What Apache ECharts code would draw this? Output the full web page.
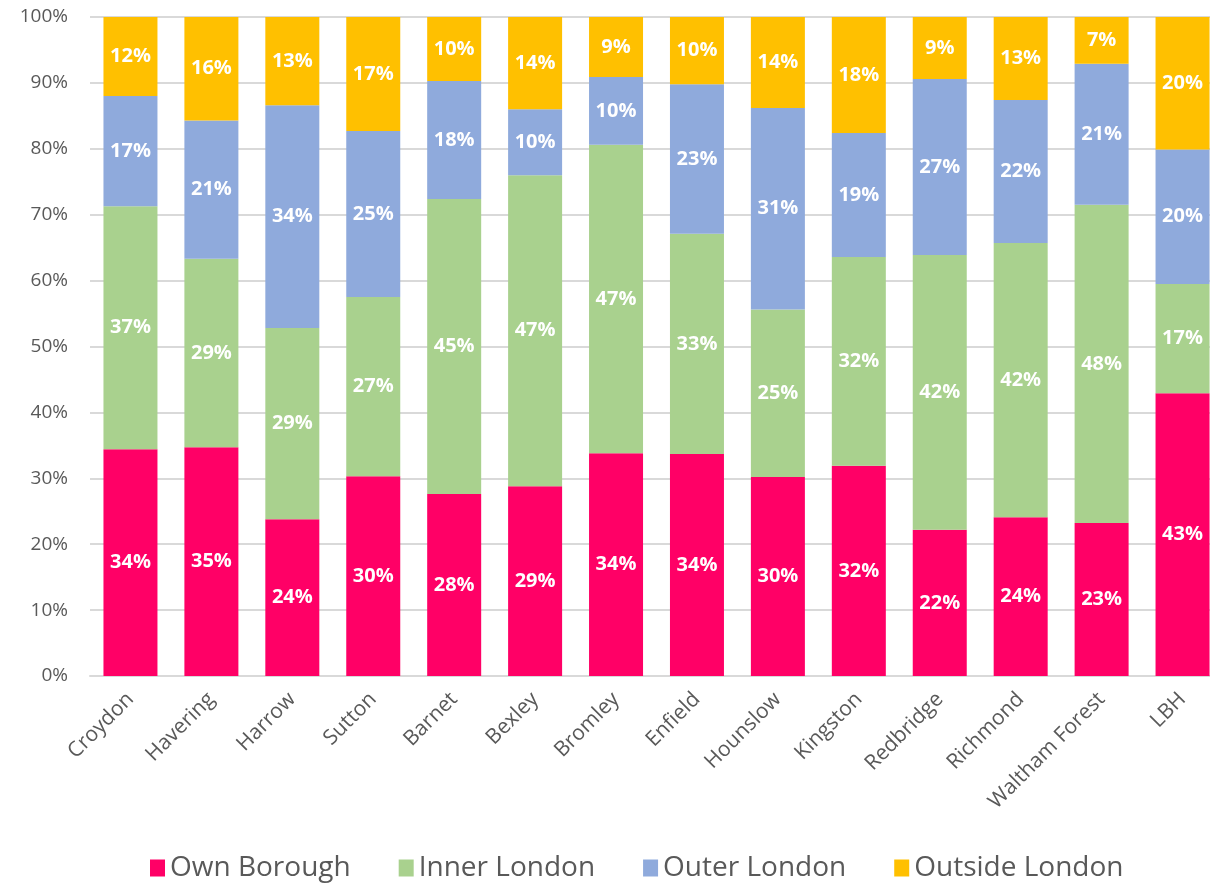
<!DOCTYPE html>
<html>
<head>
<meta charset="utf-8">
<script src="https://cdn.jsdelivr.net/npm/echarts@6/dist/echarts.min.js"></script>
<style>
  html, body { margin: 0; padding: 0; background: #fff; }
  #chart { width: 1210px; height: 883px; }
</style>
</head>
<body>
<div id="chart"></div>
<script>
// Boroughs along the x axis
const boroughs = ['Croydon', 'Havering', 'Harrow', 'Sutton', 'Barnet', 'Bexley', 'Bromley',
  'Enfield', 'Hounslow', 'Kingston', 'Redbridge', 'Richmond', 'Waltham Forest', 'LBH'];

// Share of each destination, in percent
const ownBorough    = [34.4, 34.7, 23.8, 30.3, 27.6, 28.8, 33.8, 33.7, 30.2, 31.9, 22.2, 24.1, 23.2, 42.9];
const innerLondon   = [36.9, 28.6, 29.0, 27.2, 44.8, 47.2, 46.8, 33.4, 25.4, 31.7, 41.7, 41.6, 48.3, 16.6];
const outerLondon   = [16.7, 21.0, 33.8, 25.2, 17.9, 10.0, 10.3, 22.7, 30.6, 18.8, 26.7, 21.7, 21.4, 20.4];
const outsideLondon = [12.0, 15.7, 13.4, 17.3,  9.7, 14.0,  9.1, 10.2, 13.8, 17.6,  9.4, 12.6,  7.1, 20.1];

const seriesNames = ['Own Borough', 'Inner London', 'Outer London', 'Outside London'];
const seriesColors = ['#FF0066', '#A9D18E', '#8FAADC', '#FFC000'];
const seriesData = [ownBorough, innerLondon, outerLondon, outsideLondon];

const FONT = '"Open Sans", sans-serif';

const chart = echarts.init(document.getElementById('chart'), null, { renderer: 'canvas' });

const options = {
  backgroundColor: '#fff',
  animation: false,
  // the last bar runs off the right edge, as in the reference
  grid: { left: 90, top: 17, right: -13, bottom: 207, outerBoundsMode: 'none' },
  legend: {
    top: 849,
    left: 145,
    itemWidth: 15,
    itemHeight: 17,
    itemGap: 48,
    icon: 'rect',
    textStyle: { fontFamily: FONT, fontSize: 28, color: '#595959' },
    data: seriesNames
  },
  xAxis: {
    type: 'category',
    data: boroughs,
    axisLine: { lineStyle: { color: '#d9d9d9', width: 2 } },
    axisTick: { show: false },
    axisLabel: {
      rotate: 45,
      interval: 0,
      margin: 20,
      color: '#595959',
      fontFamily: FONT,
      fontSize: 21
    }
  },
  yAxis: {
    type: 'value',
    min: 0,
    max: 100,
    interval: 10,
    axisLine: { show: false },
    axisTick: { show: false },
    splitLine: { lineStyle: { color: '#d9d9d9', width: 2 } },
    axisLabel: {
      formatter: '{value}%',
      margin: 22,
      color: '#595959',
      fontFamily: FONT,
      fontSize: 19
    }
  },
  series: seriesNames.map((name, i) => ({
    name: name,
    type: 'bar',
    stack: 'total',
    barWidth: 54,
    data: seriesData[i],
    itemStyle: { color: seriesColors[i] },
    label: {
      show: true,
      position: 'inside',
      color: '#fff',
      fontFamily: FONT,
      fontWeight: 'bold',
      fontSize: 20,
      formatter: p => Math.round(p.value) + '%'
    }
  }))
};

chart.setOption(options);
window.addEventListener('resize', () => chart.resize());
</script>
</body>
</html>
